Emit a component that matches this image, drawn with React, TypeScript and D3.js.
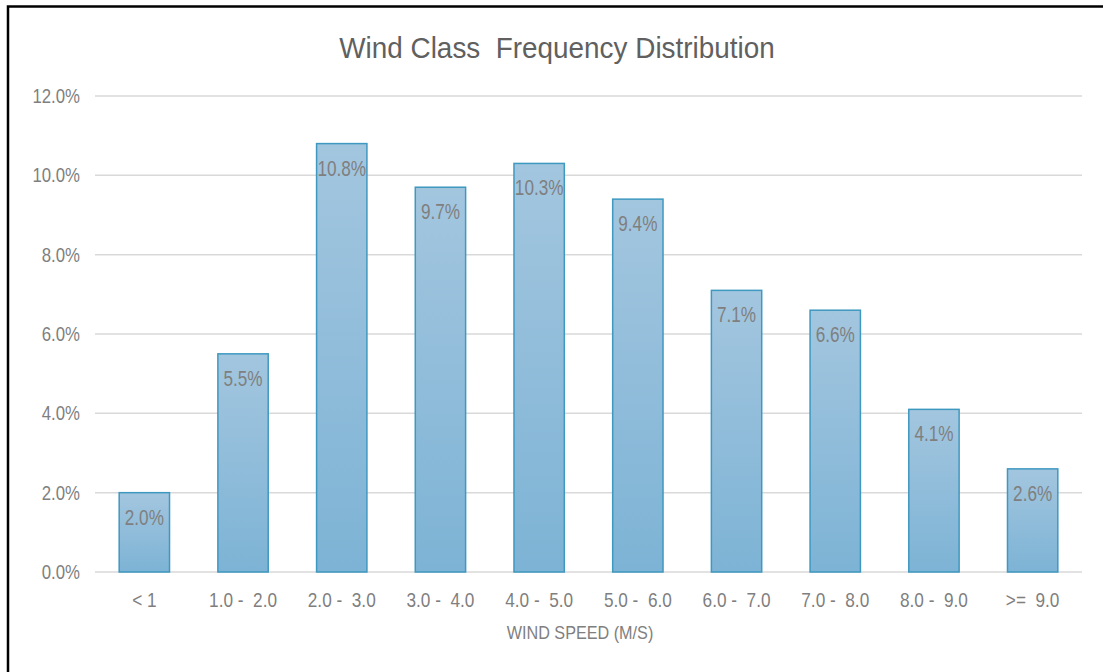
import React from "react";
import * as d3 from "d3";

const categories = ["< 1", "1.0 -  2.0", "2.0 -  3.0", "3.0 -  4.0", "4.0 -  5.0", "5.0 -  6.0", "6.0 -  7.0", "7.0 -  8.0", "8.0 -  9.0", ">=  9.0"];
const values = [2.0, 5.5, 10.8, 9.7, 10.3, 9.4, 7.1, 6.6, 4.1, 2.6];
const yTicks = [0, 2, 4, 6, 8, 10, 12];

const W = 1103, H = 672;
const FONT = "'Liberation Sans', Arial, sans-serif";

function NText(props: { x: number; y: number; sx: number; size: number; anchor?: string; fill?: string; children: string }) {
  const { x, y, sx, size, anchor = "middle", fill = "#7f7f7f", children } = props;
  return (
    <g transform={`translate(${x},${y}) scale(${sx},1)`}>
      <text x={0} y={0} textAnchor={anchor} fontSize={size} fill={fill} style={{ whiteSpace: "pre" }}>{children}</text>
    </g>
  );
}

export default function App() {
  const x = d3.scaleBand<string>().domain(categories).range([95, 1082]).paddingInner(0.49).paddingOuter(0.245);
  const y = d3.scaleLinear().domain([0, 12]).range([572, 96]);
  return (
    <svg width={W} height={H} style={{ position: "absolute", left: 0, top: 0, background: "#fff" }} fontFamily={FONT}>
      <defs>
        <linearGradient id="barGrad" x1="0" y1="0" x2="0" y2="1">
          <stop offset="0" stopColor="#a3c6df" />
          <stop offset="1" stopColor="#7db3d5" />
        </linearGradient>
      </defs>
      <rect x={8} y={6.5} width={1200} height={800} fill="none" stroke="#000" strokeWidth={2.5} />
      <NText x={557} y={58} sx={0.93} size={30} fill="#606060">{"Wind Class  Frequency Distribution"}</NText>
      {yTicks.map((t) => (
        <g key={t}>
          <line x1={95} x2={1082} y1={y(t)} y2={y(t)} stroke="#d9d9d9" strokeWidth={1.5} />
          <NText x={80} y={y(t) + 7} sx={0.8} size={21} anchor="end">{t.toFixed(1) + "%"}</NText>
        </g>
      ))}
      {categories.map((c, i) => (
        <g key={c}>
          <rect x={x(c)!} y={y(values[i])} width={x.bandwidth()} height={y(0) - y(values[i])} fill="url(#barGrad)" stroke="#3f98c0" strokeWidth={1.5} />
          <NText x={x(c)! + x.bandwidth() / 2} y={y(values[i]) + 32} sx={0.78} size={22}>{values[i].toFixed(1) + "%"}</NText>
          <NText x={x(c)! + x.bandwidth() / 2} y={607} sx={0.82} size={21}>{c}</NText>
        </g>
      ))}
      <NText x={580} y={639} sx={0.9} size={18}>WIND SPEED (M/S)</NText>
    </svg>
  );
}
